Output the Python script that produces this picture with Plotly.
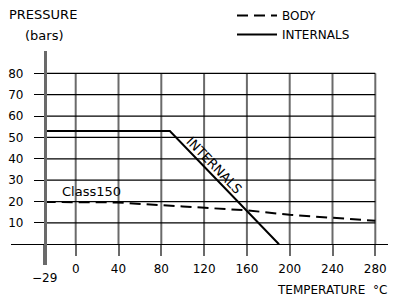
import plotly.graph_objects as go

# ---- data ----
body_temp = [-29, 38, 100, 160, 200, 240, 280]
body_pressure = [19.8, 19.6, 17.7, 15.9, 13.8, 12.3, 11.0]
internals_temp = [-29, 88, 190]
internals_pressure = [53, 53, 0]
x_ticks = [0, 40, 80, 120, 160, 200, 240, 280]
y_ticks = [10, 20, 30, 40, 50, 60, 70, 80]
x_min_tick = -29

W, H = 393, 298
L, R, T, B = 11, 5, 51, 33
XR = [-60.47, 291.87]
YR = [-9.68, 90.43]
FONT = "DejaVu Sans"
GRID_V = "#6a6a6a"

def px_x(px):
    return (px - L) / (W - L - R)

def px_y(py):
    return (H - B - py) / (H - T - B)

fig = go.Figure()
fig.add_trace(go.Scatter(x=body_temp, y=body_pressure, mode="lines", name="BODY",
                         line=dict(color="black", width=2, dash="11px,6px")))
fig.add_trace(go.Scatter(x=internals_temp, y=internals_pressure, mode="lines", name="INTERNALS",
                         line=dict(color="black", width=2)))
# invisible trace to keep the -29 axis
fig.add_trace(go.Scatter(x=[x_min_tick], y=[0], xaxis="x2", mode="markers",
                         marker=dict(opacity=0), showlegend=False, hoverinfo="skip"))

shapes = []
for v in x_ticks:
    shapes.append(dict(type="line", xref="x", yref="y", x0=v, x1=v, y0=0, y1=max(y_ticks),
                       line=dict(color=GRID_V, width=2), layer="below"))
for v in y_ticks:
    shapes.append(dict(type="line", xref="x", yref="y", x0=x_min_tick, x1=max(x_ticks), y0=v, y1=v,
                       line=dict(color="black", width=1.2), layer="below"))

x_pos = (0 - YR[0]) / (YR[1] - YR[0])
y_pos = (x_min_tick - XR[0]) / (XR[1] - XR[0])

fig.update_layout(
    width=W, height=H,
    margin=dict(l=L, r=R, t=T, b=B, autoexpand=False),
    paper_bgcolor="white", plot_bgcolor="white",
    font=dict(family=FONT, size=12, color="black"),
    shapes=shapes,
    xaxis=dict(range=XR, domain=[0, 1], anchor="free", position=x_pos,
               showline=True, linecolor="black", linewidth=1,
               ticks="outside", ticklen=11, tickwidth=2, tickcolor=GRID_V,
               tickvals=x_ticks, ticktext=[str(v) for v in x_ticks],
               showgrid=False, zeroline=False, ticklabelstandoff=2, automargin=False,
               tickfont=dict(family=FONT, size=12, color="black")),
    xaxis2=dict(range=XR, domain=[0, 1], overlaying="x", anchor="free", position=x_pos,
                side="bottom", showline=False,
                ticks="outside", ticklen=20, tickwidth=2.5, tickcolor=GRID_V,
                tickvals=[x_min_tick], ticktext=["\u221229"],
                showgrid=False, zeroline=False, ticklabelstandoff=2, automargin=False,
                tickfont=dict(family=FONT, size=12, color="black")),
    yaxis=dict(range=YR, domain=[0, 1], anchor="free", position=y_pos,
               showline=True, linecolor=GRID_V, linewidth=2.5,
               ticks="outside", ticklen=10, tickwidth=1.2, tickcolor="black",
               tickvals=y_ticks, ticktext=[str(v) for v in y_ticks],
               showgrid=False, zeroline=False, ticklabelstandoff=8, automargin=False,
               tickfont=dict(family=FONT, size=12, color="black")),
    showlegend=True,
    legend=dict(x=px_x(232), y=px_y(1), xanchor="left", yanchor="top",
                bgcolor="rgba(0,0,0,0)", borderwidth=0,
                font=dict(family=FONT, size=12, color="black"),
                tracegroupgap=0, itemwidth=40),
    annotations=[
        dict(text="PRESSURE", xref="paper", yref="paper", x=px_x(7), y=px_y(15),
             xanchor="left", yanchor="middle", showarrow=False, font=dict(size=13)),
        dict(text="(bars)", xref="paper", yref="paper", x=px_x(23), y=px_y(35),
             xanchor="left", yanchor="middle", showarrow=False, font=dict(size=13)),
        dict(text="Class150", xref="x", yref="y", x=14.3, y=24.7,
             xanchor="center", yanchor="middle", showarrow=False, font=dict(size=13)),
        dict(text="INTERNALS", xref="x", yref="y", x=129.7, y=37.1, textangle=46,
             xanchor="center", yanchor="middle", showarrow=False, font=dict(size=13)),
        dict(text="TEMPERATURE  \u00b0C", xref="paper", yref="paper", x=px_x(389), y=px_y(290),
             xanchor="right", yanchor="middle", showarrow=False, font=dict(size=12)),
    ],
)

fig.write_html("out.html", config={"displayModeBar": False},
               post_script="document.body.style.margin='0';")
